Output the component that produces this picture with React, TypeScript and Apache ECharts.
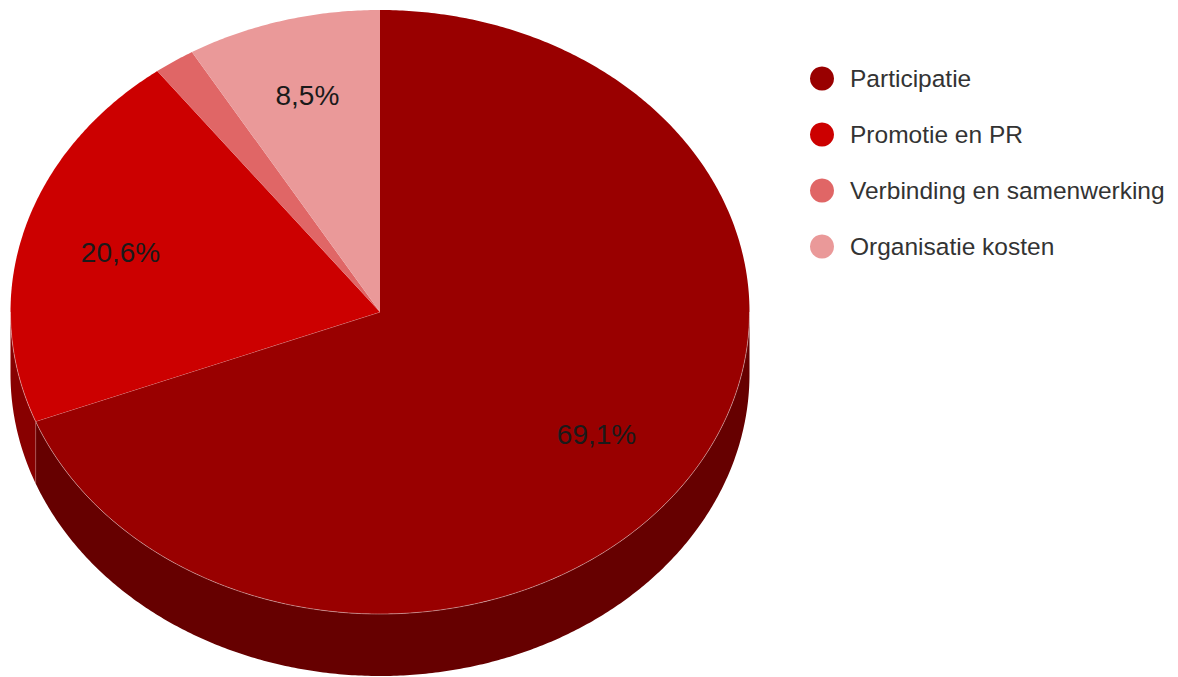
import React, { useEffect, useRef } from "react";
import * as echarts from "echarts";

const categories = ["Participatie", "Promotie en PR", "Verbinding en samenwerking", "Organisatie kosten"];
const values = [69.1, 20.6, 1.8, 8.5];
const labels = ["69,1%", "20,6%", "", "8,5%"];
const topColors = ["#990000", "#cc0000", "#e06666", "#ea9999"];
const wallColors = ["#660000", "#880000", "#954444", "#9c6666"];
const labelRadius = [0.71, 0.73, 0, 0.745];

const CX = 380;
const CY = 312;
const RX = 369.5;
const RY = 302;
const DEPTH = 62;
const SEAM = "rgba(255,255,255,0.38)";

const total = values.reduce((a, b) => a + b, 0);

function pt(deg: number, dy = 0, k = 1): number[] {
  const t = (deg * Math.PI) / 180;
  return [CX + RX * k * Math.sin(t), CY - RY * k * Math.cos(t) + dy];
}

function arc(a: number, b: number, dy = 0): number[][] {
  const out: number[][] = [];
  const steps = Math.max(2, Math.ceil(Math.abs(b - a) * 2));
  for (let i = 0; i <= steps; i++) out.push(pt(a + ((b - a) * i) / steps, dy));
  return out;
}

function makeRenderItem(index: number) {
  return () => {
    const before = values.slice(0, index).reduce((a, b) => a + b, 0);
    const start = (before / total) * 360;
    const end = ((before + values[index]) / total) * 360;
    const children: any[] = [];
    const wa = Math.max(start, 90);
    const wb = Math.min(end, 270);
    if (wb > wa) {
      children.push({
        type: "polygon",
        shape: { points: [...arc(wa, wb), ...arc(wb, wa, DEPTH)] },
        style: { fill: wallColors[index] },
      });
    }
    children.push({
      type: "polygon",
      shape: { points: [[CX, CY], ...arc(start, end)] },
      style: { fill: topColors[index] },
    });
    if (wb > wa) {
      const seam = arc(wa, wb);
      if (end < 270) seam.push([CX, CY]);
      children.push({
        type: "polyline",
        shape: { points: seam },
        style: { stroke: SEAM, lineWidth: 1, fill: "none" },
      });
      if (end < 270) {
        const p = pt(end);
        children.push({
          type: "line",
          shape: { x1: p[0], y1: p[1], x2: p[0], y2: p[1] + DEPTH },
          style: { stroke: SEAM, lineWidth: 1 },
        });
      }
    }
    if (labels[index]) {
      const p = pt((start + end) / 2, 1, labelRadius[index]);
      children.push({
        type: "text",
        x: p[0],
        y: p[1],
        style: {
          text: labels[index],
          fill: "#1a1a1a",
          font: '28px "Liberation Sans", Arial, sans-serif',
          align: "center",
          verticalAlign: "middle",
        },
      });
    }
    return { type: "group", children };
  };
}

export default function App() {
  const ref = useRef<HTMLDivElement>(null);
  useEffect(() => {
    if (!ref.current) return;
    const chart = echarts.init(ref.current, undefined, { renderer: "svg" });
    chart.setOption({
      animation: false,
      backgroundColor: "#ffffff",
      legend: {
        orient: "vertical",
        left: 810,
        top: 66,
        padding: 0,
        itemWidth: 24,
        itemHeight: 24,
        itemGap: 31,
        icon: "circle",
        selectedMode: false,
        data: categories,
        textStyle: {
          color: "#333333",
          fontFamily: '"Liberation Sans", Arial, sans-serif',
          fontSize: 24.5,
          padding: [0, 0, 0, 11],
        },
      },
      series: categories.map((name, i) => ({
        type: "custom",
        name,
        coordinateSystem: "none",
        data: [[values[i]]],
        itemStyle: { color: topColors[i] },
        renderItem: makeRenderItem(i),
        silent: true,
      })),
    });
    return () => chart.dispose();
  }, []);
  return <div ref={ref} style={{ position: "absolute", left: 0, top: 0, width: 1178, height: 677 }} />;
}
